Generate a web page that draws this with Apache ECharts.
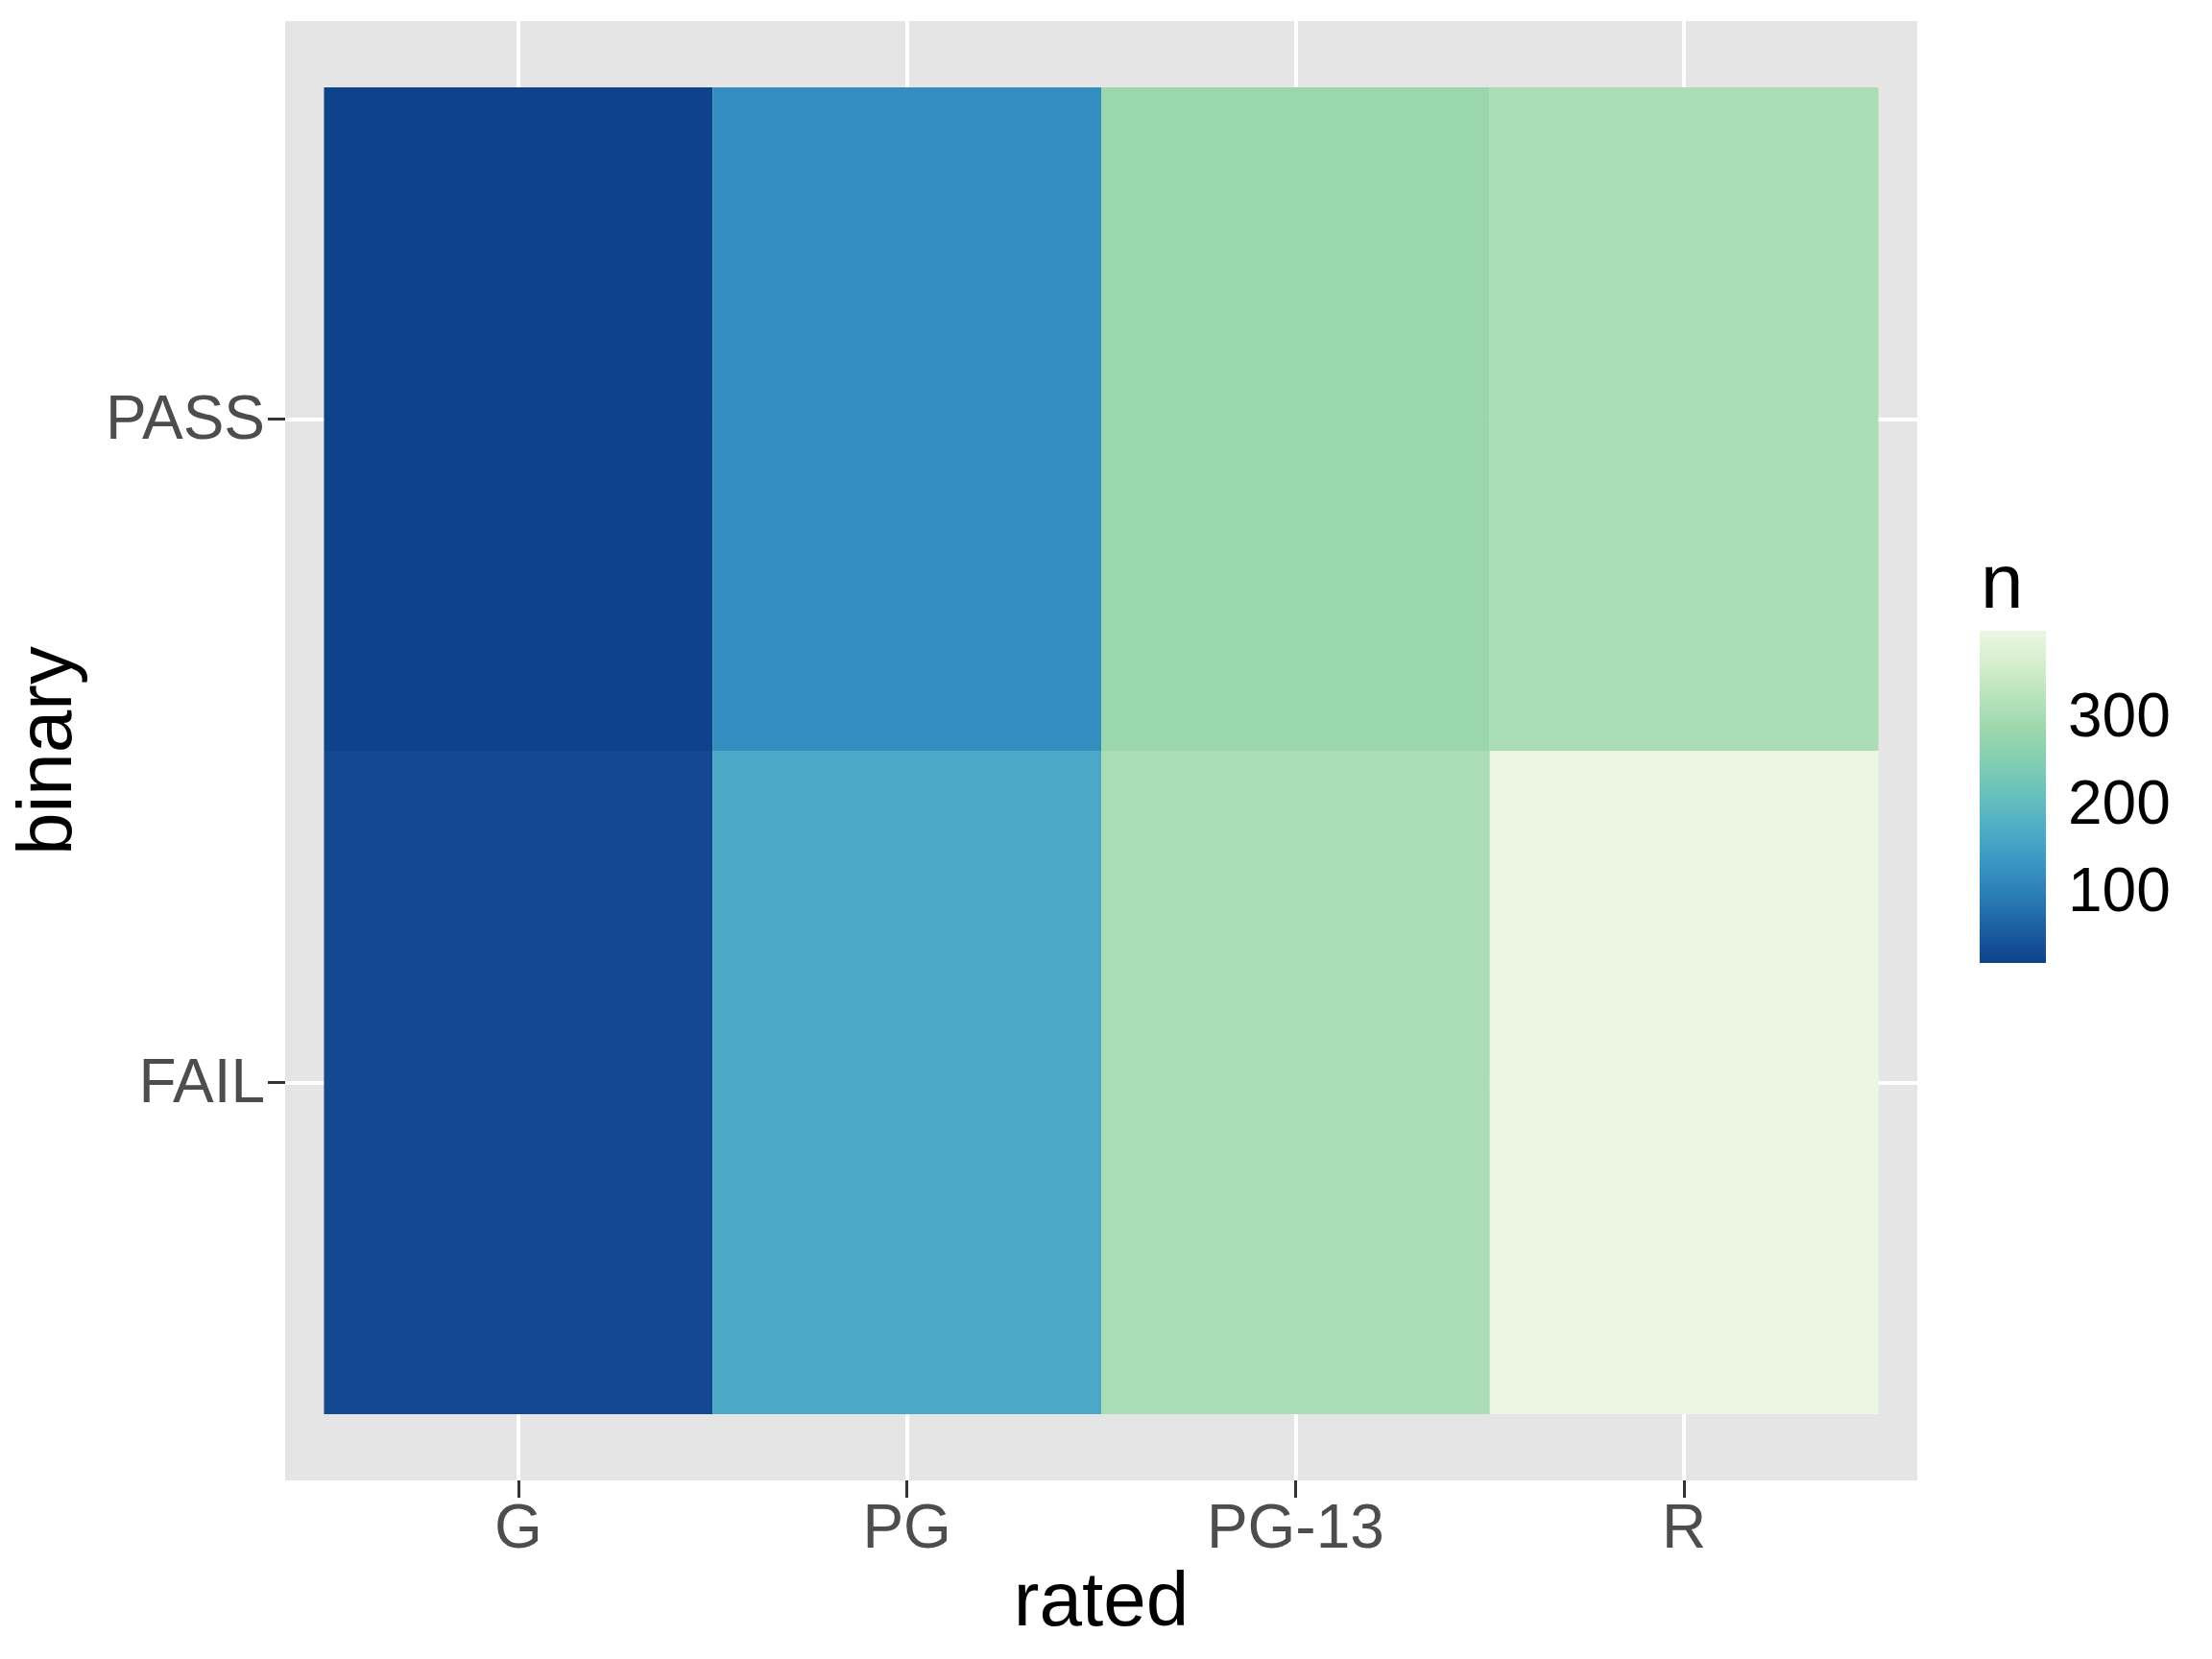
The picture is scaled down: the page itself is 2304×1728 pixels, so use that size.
<!DOCTYPE html>
<html>
<head>
<meta charset="utf-8">
<script src="https://cdn.jsdelivr.net/npm/echarts@6/dist/echarts.min.js"></script>
<style>
html,body{margin:0;padding:0;background:#fff;}
#c{width:2304px;height:1728px;}
</style>
</head>
<body>
<div id="c"></div>
<script>
// ---- data ----
const rated = ['G', 'PG', 'PG-13', 'R'];
const binary = ['FAIL', 'PASS'];
const passN = [14, 115, 280, 300];
const failN = [24, 160, 300, 394];
const legendTicks = [100, 200, 300];
// colour ramp, low -> high
const ramp = ['#0e428a', '#1c5ea1', '#2a7cb6', '#3996c4', '#4eacc8', '#66c0bd',
              '#80cdb3', '#9bd7ac', '#b8e3bb', '#d4efcc', '#ebf7e2'];

const cells = [];
rated.forEach((r, i) => {
  cells.push([i + 1, 1, failN[i]]);
  cells.push([i + 1, 2, passN[i]]);
});
const allN = passN.concat(failN);
const minN = Math.min(...allN), maxN = Math.max(...allN);

const FONT = '"Liberation Sans", Arial, sans-serif';
const chart = echarts.init(document.getElementById('c'));

const stops = ramp.map((c, i) => ({offset: i / (ramp.length - 1), color: c}));

chart.setOption({
  backgroundColor: '#ffffff',
  animation: false,
  textStyle: {fontFamily: FONT},
  title: {
    text: 'n', left: 2058, top: 566,
    textStyle: {fontFamily: FONT, fontSize: 80, fontWeight: 'normal', color: '#000'}
  },
  grid: [
    {left: 297, top: 22, width: 1700, height: 1520, show: true,
     backgroundColor: '#e5e5e5', borderWidth: 0},
    {left: 2062, top: 657, width: 69, height: 346, show: false}
  ],
  visualMap: {
    type: 'continuous', show: false, seriesIndex: 0, dimension: 2,
    min: minN, max: maxN, inRange: {color: ramp}
  },
  xAxis: [
    {
      type: 'value', gridIndex: 0, min: 0.4, max: 4.6,
      name: 'rated', nameLocation: 'middle', nameGap: 84,
      nameTextStyle: {fontFamily: FONT, fontSize: 80, color: '#000'},
      axisLine: {show: false},
      axisTick: {show: true, length: 18, lineStyle: {color: '#333333', width: 3}, customValues: [1, 2, 3, 4]},
      axisLabel: {show: true, margin: 20, fontFamily: FONT, fontSize: 64, color: '#4d4d4d',
                  customValues: [1, 2, 3, 4], formatter: v => rated[Math.round(v) - 1]},
      splitLine: {show: true, lineStyle: {color: '#ffffff', width: 4}}
    },
    {
      type: 'category', gridIndex: 1, data: ['n'], show: false
    }
  ],
  yAxis: [
    {
      type: 'value', gridIndex: 0, min: 0.4, max: 2.6,
      name: 'binary', nameLocation: 'middle', nameGap: 205, nameRotate: 90,
      nameTextStyle: {fontFamily: FONT, fontSize: 80, color: '#000'},
      axisLine: {show: false},
      axisTick: {show: true, length: 18, lineStyle: {color: '#333333', width: 3}, customValues: [1, 2]},
      axisLabel: {show: true, margin: 21, color: '#4d4d4d',
                  customValues: [1, 2], formatter: v => '{a|' + binary[Math.round(v) - 1] + '}',
                  rich: {a: {fontFamily: FONT, fontSize: 64, color: '#4d4d4d', padding: [6, 0, 0, 0]}}},
      splitLine: {show: true, lineStyle: {color: '#ffffff', width: 4}}
    },
    {
      type: 'value', gridIndex: 1, position: 'left', min: minN, max: maxN,
      axisLine: {show: false},
      axisTick: {show: true, inside: true, length: 14, lineStyle: {color: '#ffffff', width: 2}, customValues: legendTicks},
      axisLabel: {show: false},
      splitLine: {show: false}
    },
    {
      type: 'value', gridIndex: 1, position: 'right', min: minN, max: maxN,
      axisLine: {show: false},
      axisTick: {show: true, inside: true, length: 14, lineStyle: {color: '#ffffff', width: 2}, customValues: legendTicks},
      axisLabel: {show: true, margin: 23, color: '#000',
                  customValues: legendTicks, formatter: v => '{a|' + v + '}',
                  rich: {a: {fontFamily: FONT, fontSize: 64, color: '#000', padding: [14, 0, 0, 0]}}},
      splitLine: {show: false}
    }
  ],
  series: [
    {
      type: 'custom', xAxisIndex: 0, yAxisIndex: 0,
      encode: {x: 0, y: 1},
      data: cells,
      renderItem: function (params, api) {
        const x = api.value(0), y = api.value(1);
        const p0 = api.coord([x - 0.5, y + 0.5]);
        const p1 = api.coord([x + 0.5, y - 0.5]);
        return {
          type: 'rect',
          shape: {x: p0[0], y: p0[1], width: p1[0] - p0[0], height: p1[1] - p0[1]},
          style: {fill: api.visual('color'), stroke: null}
        };
      }
    },
    {
      type: 'custom', xAxisIndex: 1, yAxisIndex: 1, z: 1,
      data: [[0, minN, maxN]],
      encode: {x: 0, y: [1, 2]},
      renderItem: function (params, api) {
        const top = api.coord([0, api.value(2)]);
        const bot = api.coord([0, api.value(1)]);
        const w = api.size([1, 0])[0];
        return {
          type: 'rect',
          shape: {x: top[0] - w / 2, y: top[1], width: w, height: bot[1] - top[1]},
          style: {fill: {type: 'linear', x: 0, y: 1, x2: 0, y2: 0, colorStops: stops}}
        };
      }
    }
  ]
});
</script>
</body>
</html>
